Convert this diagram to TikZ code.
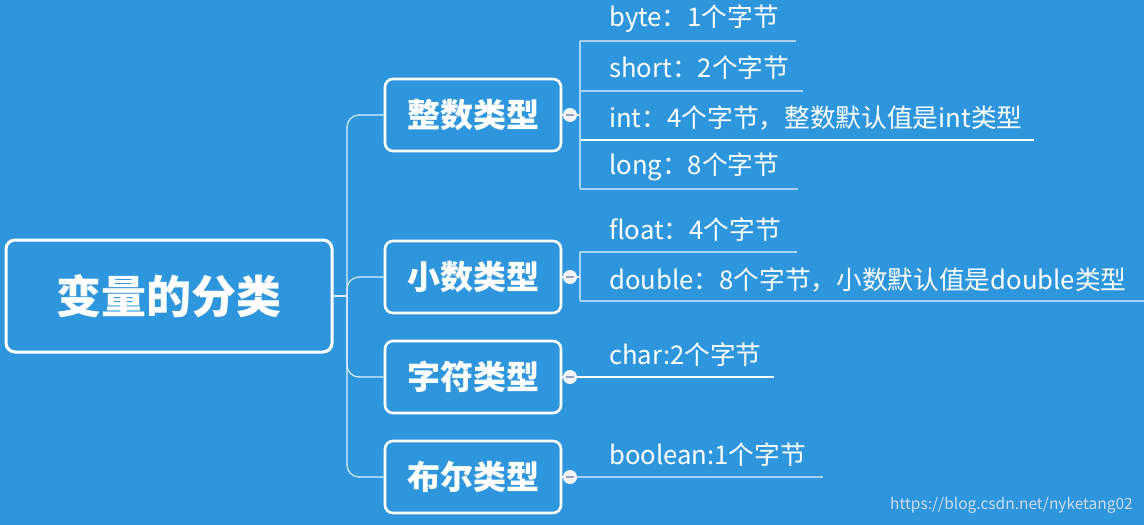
\documentclass[tikz,border=0pt]{standalone}
\usepackage{fontspec}
\newfontfamily\cjk{Noto Sans CJK SC}
\setmainfont{Noto Sans CJK SC}
\definecolor{bg}{RGB}{46,150,221}
\definecolor{lnc}{RGB}{170,210,240}
\definecolor{minus}{RGB}{150,160,190}
\definecolor{wm}{RGB}{205,222,238}
\begin{document}
\begin{tikzpicture}[x=1pt,y=-1pt,
  rootbox/.style={draw=white,line width=3pt,rounded corners=9pt,minimum width=326pt,minimum height=112pt,text=white,font=\cjk\bfseries\fontsize{45}{50}\selectfont},
  catbox/.style={draw=white,line width=2.6pt,rounded corners=8pt,minimum width=176pt,minimum height=72pt,text=white,font=\cjk\bfseries\fontsize{33}{37}\selectfont},
  leaf/.style={anchor=west,text=white,inner sep=0pt,font=\cjk\fontsize{25.7}{30}\selectfont},
  link/.style={draw=white!85!bg,line width=1.2pt},
  uline/.style={draw=lnc,line width=1.4pt},
  knob/.style={circle,fill=white!88!minus,minimum size=14pt,inner sep=0pt}
]
\fill[bg] (0,0) rectangle (1144,525);
\useasboundingbox (0,0) rectangle (1144,525);

\node[rootbox] (root) at (169,296) {变量的分类};
\node[catbox] (c1) at (473,115) {整数类型};
\node[catbox] (c2) at (473,277) {小数类型};
\node[catbox] (c3) at (473,377) {字符类型};
\node[catbox] (c4) at (473,477) {布尔类型};

\coordinate (j) at (347,296);
\draw[link] (root.east) -- (j);
\foreach \c in {c1,c2,c3,c4}{
  \draw[link,rounded corners=12pt] (j) |- (\c.west);
}

% knobs
\node[knob] (k1) at (570,115) {};
\node[knob] (k2) at (570,277) {};
\node[knob] (k3) at (570,377) {};
\node[knob] (k4) at (570,477) {};
\foreach \k/\c in {k1/c1,k2/c2,k3/c3,k4/c4}{
  \draw[link] (\c.east) -- (\k.west);
  \draw[minus,line width=1.6pt] ([xshift=-4pt]\k.center) -- ([xshift=4pt]\k.center);
}

% integer leaves
\node[leaf] (l1) at (609,19) {byte：1个字节};
\node[leaf] (l2) at (609,68) {short：2个字节};
\node[leaf] (l3) at (609,118) {int：4个字节，整数默认值是int类型};
\node[leaf] (l4) at (609,167) {long：8个字节};
\coordinate (u1a) at (580,41);  \coordinate (u1b) at (796,41);
\coordinate (u2a) at (580,91);  \coordinate (u2b) at (803,91);
\coordinate (u3a) at (580,140); \coordinate (u3b) at (1034,140);
\coordinate (u4a) at (580,189); \coordinate (u4b) at (798,189);
\draw[uline] (u1a) -- (u1b);
\draw[uline] (u2a) -- (u2b);
\draw[draw=white,line width=1.2pt] (u3a) -- (u3b);
\draw[uline] (u4a) -- (u4b);
\draw[uline] (u1a) -- (u4a);
\draw[link] (k1.east) -- (k1.east -| u1a);

% decimal leaves
\node[leaf] (l5) at (609,230) {float：4个字节};
\node[leaf] (l6) at (609,280) {double：8个字节，小数默认值是double类型};
\coordinate (u5a) at (580,252); \coordinate (u5b) at (797,252);
\coordinate (u6a) at (580,301); \coordinate (u6b) at (1144,301);
\draw[uline] (u5a) -- (u5b);
\draw[uline] (u6a) -- (u6b);
\draw[uline] (u5a) -- (u6a);
\draw[link] (k2.east) -- (k2.east -| u5a);

% char
\node[leaf] (l7) at (609,355) {char:2个字节};
\coordinate (u7b) at (774,377);
\draw[draw=white,line width=1.2pt] (k3.east) -- (u7b);

% boolean
\node[leaf] (l8) at (609,455) {boolean:1个字节};
\coordinate (u8b) at (823,477);
\draw[uline] (k4.east) -- (u8b);

% watermark
\node[anchor=east,text=wm,inner sep=0pt,font=\fontsize{15.5}{17}\selectfont] (wmk) at (1133,505) {https://blog.csdn.net/nyketang02};
\end{tikzpicture}
\end{document}
